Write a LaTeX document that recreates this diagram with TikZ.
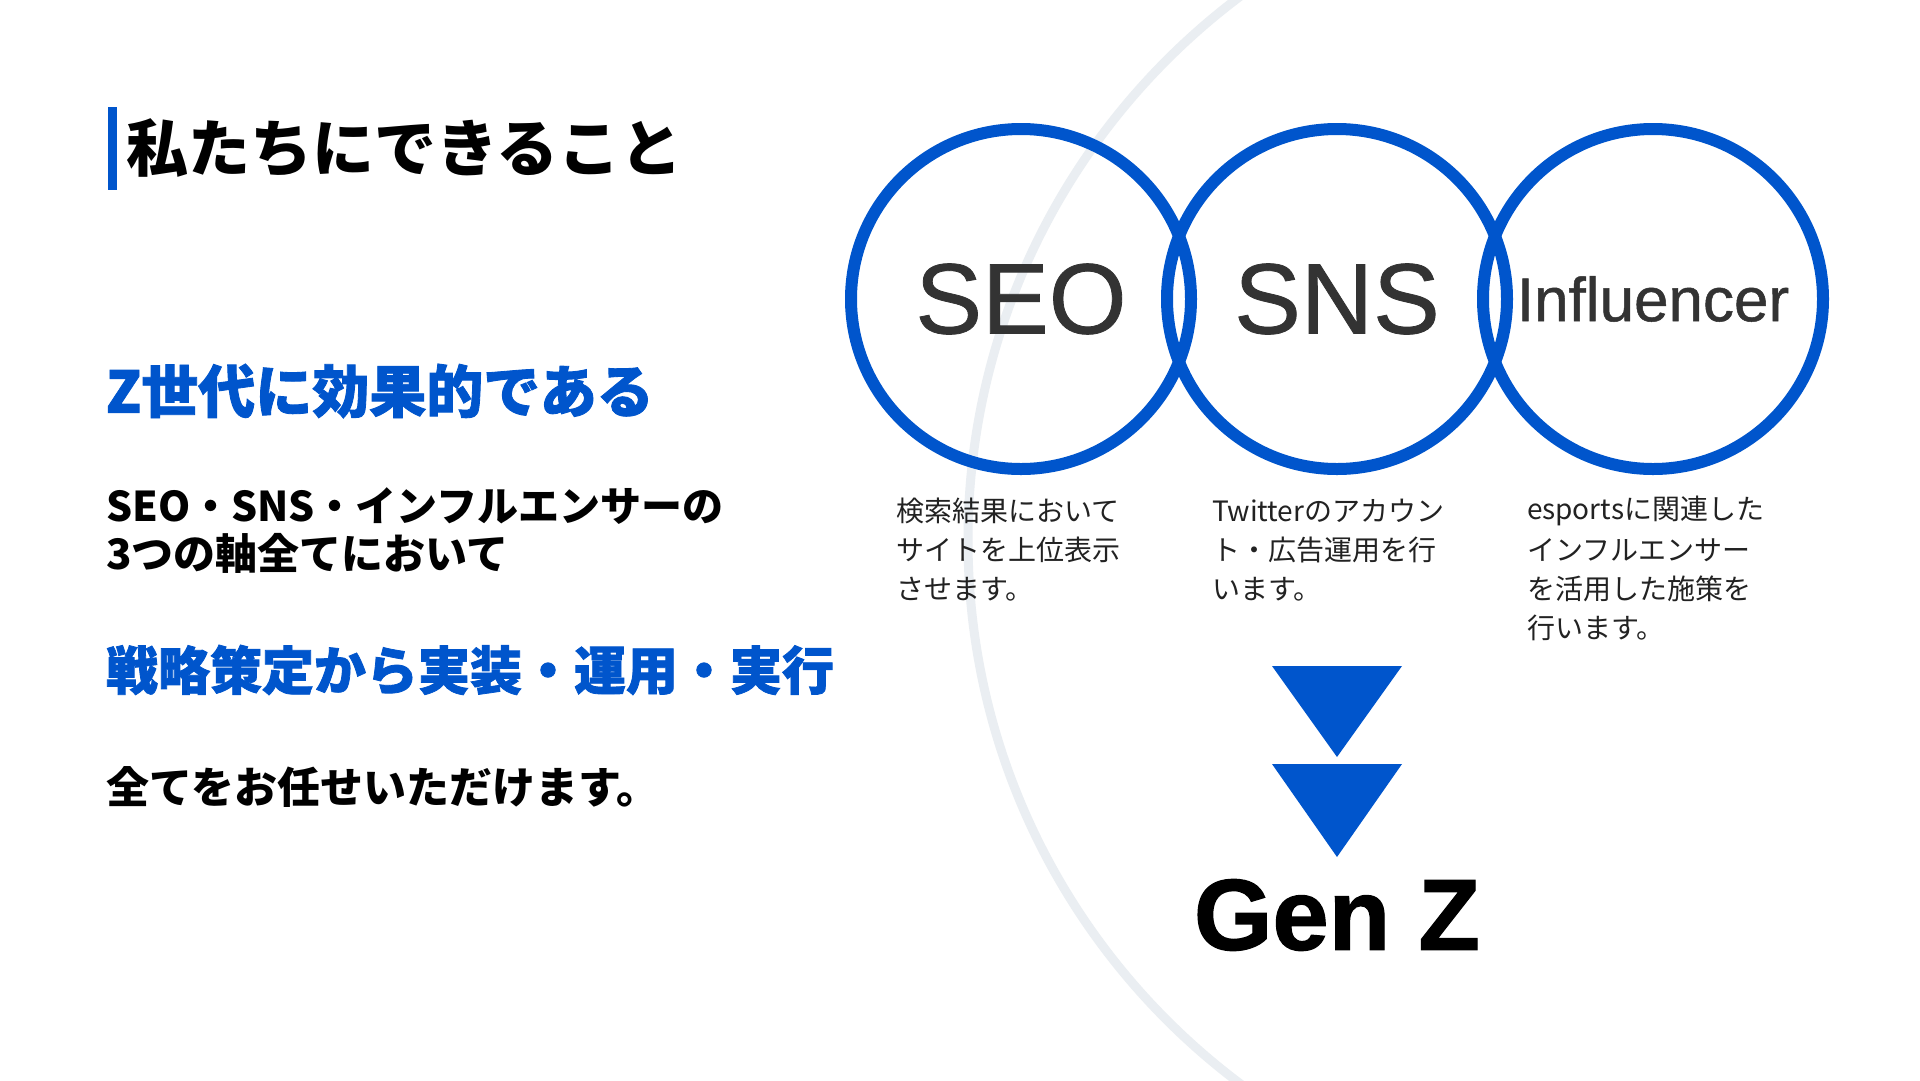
\documentclass[tikz,border=0pt]{standalone}
\usepackage{fontspec}
\newfontfamily\jp{Noto Sans CJK JP}
\newfontfamily\jpheavy{Noto Sans CJK JP}[BoldFeatures={FakeBold=1.5}]
\newfontfamily\ars{Liberation Sans}
\newfontfamily\arsmed{Liberation Sans}[FakeBold=0.8]
\newfontfamily\arsheavy{Liberation Sans}[BoldFeatures={FakeBold=1.2}]
\definecolor{brand}{RGB}{0,85,204}
\definecolor{arcgray}{RGB}{234,238,242}
\definecolor{labelgray}{RGB}{51,51,51}
\definecolor{inkc}{RGB}{34,34,34}
\begin{document}
\begin{tikzpicture}[x=1pt,y=-1pt,
  every node/.style={inner sep=0pt, outer sep=0pt},
  ring/.style={circle, draw=brand, line width=12pt, minimum size=340pt, text=labelgray},
  biglabel/.style={font=\arsmed\fontsize{100}{110}\selectfont},
  heading/.style={anchor=west, font=\jpheavy\bfseries\fontsize{57}{62}\selectfont, text=brand},
  bodytext/.style={anchor=west, font=\jp\bfseries\fontsize{41}{48}\selectfont, text=black},
  desc/.style={anchor=west, font=\jp\fontsize{28}{39}\selectfont, text=inkc},
  arrowtri/.style={fill=brand, draw=none}
]
\useasboundingbox (0,0) rectangle (1920,1080);
\fill[white] (0,0) rectangle (1920,1080);
% background arc
\begin{scope}
  \clip (0,0) rectangle (1920,1080);
  \draw[arcgray, line width=9pt] (1647,540) circle[radius=679pt];
\end{scope}

% title
\fill[brand] (108,107) rectangle (117,190);
\node[anchor=west, font=\jp\bfseries\fontsize{62}{66}\selectfont, text=black] (title) at (126,148) {私たちにできること};

% left texts
\node[heading] (h1) at (106,391) {Z世代に効果的である};
\node[bodytext] (b1) at (106,506) {SEO・SNS・インフルエンサーの};
\node[bodytext, font=\jp\bfseries\fontsize{42}{48}\selectfont] (b2) at (106,553) {3つの軸全てにおいて};
\node[heading, font=\jpheavy\bfseries\fontsize{52}{60}\selectfont] (h2) at (106,670) {戦略策定から実装・運用・実行};
\node[bodytext, font=\jp\bfseries\fontsize{43}{48}\selectfont] (b3) at (106,787) {全てをお任せいただけます。};

% circles
\node[ring, biglabel] (seo) at (1021,299) {SEO};
\node[ring, biglabel] (sns) at (1337,299) {SNS};
\node[ring, font=\arsmed\fontsize{62}{70}\selectfont] (inf) at (1653,299) {Influencer};

% descriptions
\node[desc] (d11) at (896,511) {検索結果において};
\node[desc] (d12) at (896,550) {サイトを上位表示};
\node[desc] (d13) at (896,589) {させます。};

\node[desc] (d21) at (1212,511) {Twitterのアカウン};
\node[desc] (d22) at (1212,550) {ト・広告運用を行};
\node[desc] (d23) at (1212,589) {います。};

\node[desc] (d31) at (1527,511) {esportsに関連した};
\node[desc] (d32) at (1527,550) {インフルエンサー};
\node[desc] (d33) at (1527,589) {を活用した施策を};
\node[desc] (d34) at (1527,628) {行います。};

% triangles
\fill[arrowtri] (1272,666) -- (1402,666) -- (1337,757) -- cycle;
\fill[arrowtri] (1272,764) -- (1402,764) -- (1337,857) -- cycle;

% Gen Z
\node[font=\arsheavy\bfseries\fontsize{101}{110}\selectfont, text=black] (genz) at (1337,915) {Gen Z};
\end{tikzpicture}
\end{document}
